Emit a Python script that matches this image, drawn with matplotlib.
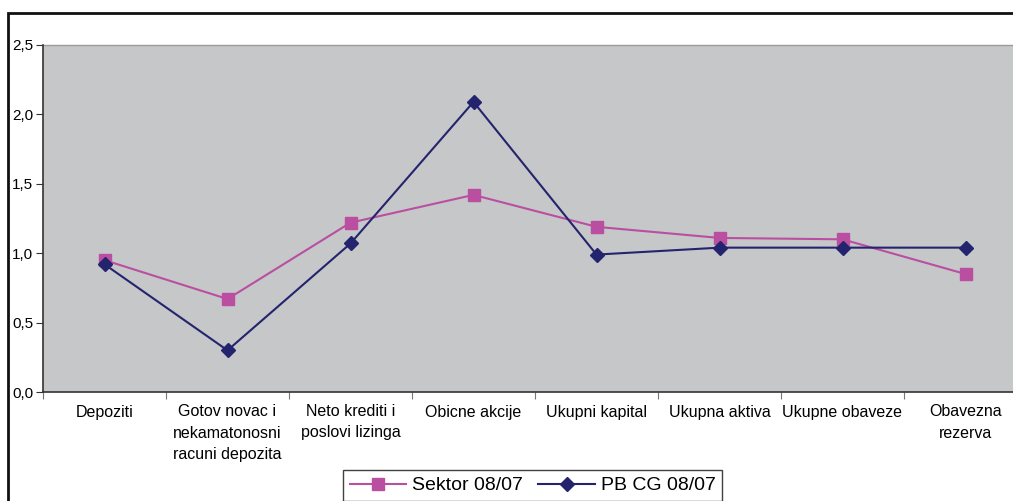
import matplotlib

matplotlib.use("Agg")
import matplotlib.pyplot as plt
from matplotlib.lines import Line2D
from matplotlib.patches import Rectangle
from matplotlib.ticker import FixedLocator, FuncFormatter

plt.rcParams["font.family"] = ["Liberation Sans", "DejaVu Sans"]

CATEGORIES = ["Depoziti", "Gotov novac i\nnekamatonosni\nracuni depozita",
              "Neto krediti i\nposlovi lizinga", "Obicne akcije", "Ukupni kapital",
              "Ukupna aktiva", "Ukupne obaveze", "Obavezna\nrezerva"]
SEKTOR = [0.95, 0.67, 1.22, 1.42, 1.19, 1.11, 1.10, 0.85]
PB_CG = [0.92, 0.30, 1.07, 2.09, 0.99, 1.04, 1.04, 1.04]
SERIES_NAMES = ["Sektor 08/07", "PB CG 08/07"]

PINK = "#BA4FA2"
NAVY = "#24246E"
PLOT_BG = "#C6C7C9"

fig = plt.figure(figsize=(10.13, 5.01), dpi=100)
# plot area runs past the right edge of the image, like the cropped original
ax = fig.add_axes([43 / 1013, 109 / 501, 984 / 1013, 347 / 501])
ax.set_facecolor(PLOT_BG)

x = list(range(len(CATEGORIES)))
ax.plot(x, SEKTOR, color=PINK, lw=1.5, marker="s", ms=8.5, mec=PINK, mfc=PINK, zorder=3)
ax.plot(x, PB_CG, color=NAVY, lw=1.5, marker="D", ms=7.5, mec=NAVY, mfc=NAVY, zorder=4)

ax.set_xlim(-0.5, len(CATEGORIES) - 0.5)
ax.set_ylim(0, 2.5)
ax.set_yticks([0, 0.5, 1.0, 1.5, 2.0, 2.5])
ax.yaxis.set_major_formatter(FuncFormatter(lambda v, _: f"{v:.1f}".replace(".", ",")))

ax.set_xticks(x)
ax.set_xticklabels(CATEGORIES, fontsize=11.5, linespacing=1.5)
ax.xaxis.set_minor_locator(FixedLocator([i - 0.5 for i in range(len(CATEGORIES) + 1)]))
ax.tick_params(axis="x", which="major", length=0, pad=9)
ax.tick_params(axis="x", which="minor", length=5, color="#777777", width=0.8)
ax.tick_params(axis="y", length=5, width=0.8, color="#333333", labelsize=11, pad=2)

for side in ["top", "right"]:
    ax.spines[side].set_visible(False)
ax.spines["left"].set_color("#333333")
ax.spines["bottom"].set_color("#333333")
ax.spines["left"].set_linewidth(1.2)
ax.spines["bottom"].set_linewidth(1.2)
ax.plot([-0.5, len(CATEGORIES) - 0.5], [2.5, 2.5], color="#9a9a9a", lw=1, clip_on=False)

# outer chart frame (cut off on right and bottom)
fig.patches.append(Rectangle((8 / 1013, -0.2), 1.2, 1.2 - 13 / 501,
                             transform=fig.transFigure, fill=False,
                             edgecolor="#111111", lw=2))

handles = [Line2D([0], [0], color=PINK, lw=1.5, marker="s", ms=8.5, mfc=PINK, mec=PINK),
           Line2D([0], [0], color=NAVY, lw=1.5, marker="D", ms=7.5, mfc=NAVY, mec=NAVY)]
leg = fig.legend(handles, SERIES_NAMES, loc="upper left",
                 bbox_to_anchor=(343 / 1013, 1 - 470 / 501), ncol=2, fontsize=14,
                 frameon=True, fancybox=False, edgecolor="#111111",
                 handlelength=2.9, handletextpad=0.3, columnspacing=0.8,
                 borderpad=0.35, borderaxespad=0)
leg.get_frame().set_linewidth(1.0)

fig.savefig("out.png", dpi=100)
